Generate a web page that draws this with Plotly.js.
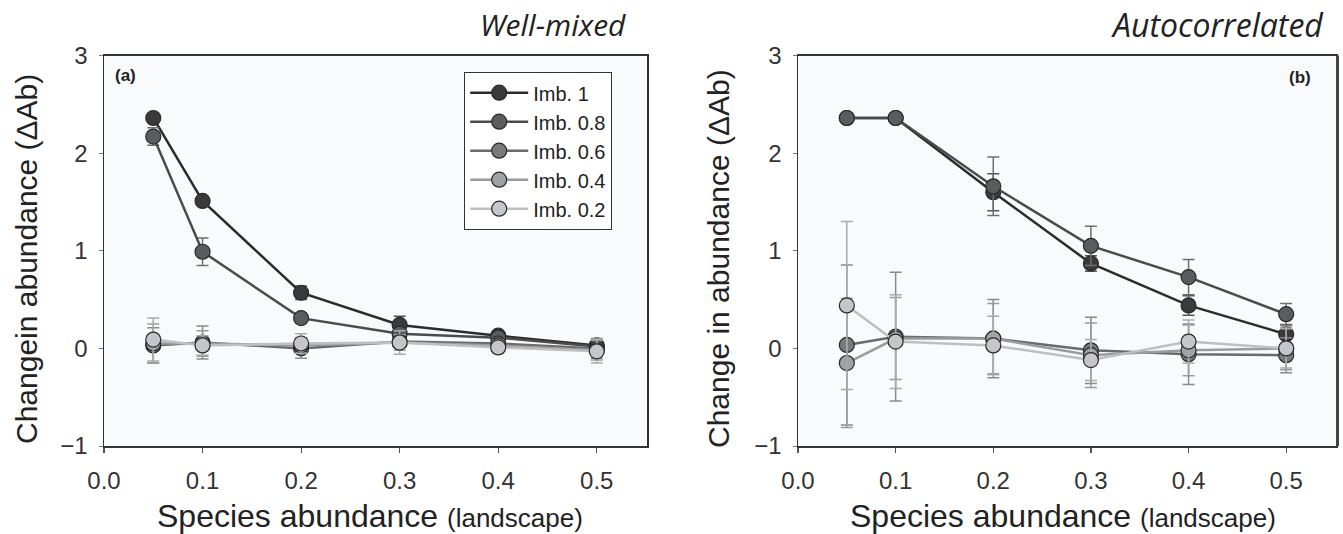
<!DOCTYPE html>
<html>
<head>
<meta charset="utf-8">
<script src="https://cdn.plot.ly/plotly-3.0.1.min.js"></script>
<style>
html,body{margin:0;padding:0;background:#fff;}
#chart{width:1343px;height:534px;}
</style>
</head>
<body>
<div id="chart"></div>
<script>
// ---- data ----
const xVals = [0.05, 0.1, 0.2, 0.3, 0.4, 0.5];
const seriesNames = ["Imb. 1", "Imb. 0.8", "Imb. 0.6", "Imb. 0.4", "Imb. 0.2"];

// Panel (a) Well-mixed
const a_imb1  = [2.36, 1.51, 0.57, 0.24, 0.13, 0.03];
const a_imb08 = [2.17, 0.99, 0.31, 0.15, 0.11, 0.02];
const a_imb06 = [0.03, 0.06, 0.00, 0.07, 0.05, 0.00];
const a_imb04 = [0.05, 0.05, 0.03, 0.06, 0.03, -0.02];
const a_imb02 = [0.09, 0.03, 0.05, 0.06, 0.01, -0.03];
const a_err1  = [0.04, 0.04, 0.07, 0.09, 0.04, 0.04];
const a_err08 = [0.09, 0.14, 0.05, 0.05, 0.03, 0.03];
const a_err06 = [0.18, 0.17, 0.10, 0.06, 0.05, 0.10];
const a_err04 = [0.20, 0.13, 0.08, 0.08, 0.06, 0.10];
const a_err02 = [0.22, 0.10, 0.10, 0.12, 0.06, 0.12];

// Panel (b) Autocorrelated
const b_imb1  = [2.36, 2.36, 1.60, 0.87, 0.44, 0.145];
const b_imb08 = [2.36, 2.36, 1.66, 1.05, 0.73, 0.35];
const b_imb06 = [0.035, 0.12, 0.10, -0.02, -0.06, -0.07];
const b_imb04 = [-0.15, 0.10, 0.10, -0.07, -0.02, 0.00];
const b_imb02 = [0.44, 0.07, 0.03, -0.12, 0.07, 0.00];
const b_err1  = [0.02, 0.02, 0.19, 0.08, 0.10, 0.10];
const b_err08 = [0.02, 0.02, 0.30, 0.20, 0.18, 0.11];
const b_err06 = [0.82, 0.66, 0.40, 0.34, 0.31, 0.18];
const b_err04 = [0.66, 0.42, 0.36, 0.33, 0.26, 0.22];
const b_err02 = [0.86, 0.48, 0.30, 0.21, 0.22, 0.20];

const xTickVals = [0, 0.1, 0.2, 0.3, 0.4, 0.5];
const xTickText = ["0.0", "0.1", "0.2", "0.3", "0.4", "0.5"];
const yTickVals = [-1, 0, 1, 2, 3];
const yTickText = ["\u22121", "0", "1", "2", "3"];

// ---- styles ----
const lineColors   = ["#2c2c2c", "#4b4b4b", "#6a6a6a", "#9b9b9b", "#bfbfbf"];
const markerColors = ["#3a3a3a", "#5a5d5f", "#787b7e", "#9fa2a6", "#c3c6cb"];
const errColors    = ["#555555", "#6e6e6e", "#8a8a8a", "#9a9a9a", "#aaaaaa"];

const aY = [a_imb1, a_imb08, a_imb06, a_imb04, a_imb02];
const aE = [a_err1, a_err08, a_err06, a_err04, a_err02];
const bY = [b_imb1, b_imb08, b_imb06, b_imb04, b_imb02];
const bE = [b_err1, b_err08, b_err06, b_err04, b_err02];

const traces = [];
function addPanel(ys, es, xa, ya, showLeg) {
  [0, 1, 2, 3, 4].forEach(i => {
    traces.push({
      type: "scatter", mode: "lines+markers",
      name: seriesNames[i],
      x: xVals, y: ys[i],
      xaxis: xa, yaxis: ya,
      showlegend: showLeg,
      line: {color: lineColors[i], width: 2.5},
      marker: {size: 15, color: markerColors[i], line: {color: "#2a2a2a", width: 1.2}},
      error_y: {type: "data", array: es[i], visible: true, color: errColors[i], thickness: 1.5, width: 6}
    });
  });
}
addPanel(aY, aE, "x", "y", true);
addPanel(bY, bE, "x2", "y2", false);

const tickFont = {family: "Liberation Sans, Arial, sans-serif", size: 24, color: "#333"};
function xax(domain, anchor) {
  return {
    domain: domain, range: [0, 0.551], tickvals: xTickVals, ticktext: xTickText, anchor: anchor,
    ticks: "outside", ticklen: 5, tickcolor: "#555", tickwidth: 1.2,
    showline: true, linecolor: "#333", linewidth: 1.5, mirror: true,
    showgrid: false, zeroline: false, tickfont: tickFont, ticklabelstandoff: 8
  };
}
function yax(domain, anchor) {
  return {
    domain: domain, range: [-1, 3], tickvals: yTickVals, ticktext: yTickText,
    ticks: "outside", ticklen: 4, tickcolor: "#777", tickwidth: 1,
    showline: true, linecolor: "#333", linewidth: 1.5, mirror: true,
    showgrid: false, zeroline: false, tickfont: tickFont, anchor: anchor, ticklabelstandoff: 6
  };
}

const W = 1343, H = 534;
const yDom = [1 - 446/H, 1 - 55.5/H];

const titleFont = {family: "Liberation Sans, Arial, sans-serif", size: 30, color: "#222"};
const xTitleFont = {family: "Liberation Sans, Arial, sans-serif", size: 32, color: "#222"};
const labFont = {family: "Liberation Sans, Arial, sans-serif", size: 17, color: "#222"};
const xTitleText = "Species abundance <span style='font-size:26px'>(landscape)</span>";

const layout = {
  width: W, height: H,
  margin: {l: 0, r: 0, t: 0, b: 0},
  paper_bgcolor: "#ffffff",
  plot_bgcolor: "#f9fafb",
  showlegend: true,
  legend: {
    x: 464/W, y: 1 - 72/H, xanchor: "left", yanchor: "top",
    bgcolor: "#ffffff", bordercolor: "#333", borderwidth: 1.2,
    font: {family: "Liberation Sans, Arial, sans-serif", size: 20, color: "#222"},
    tracegroupgap: 0, itemwidth: 58
  },
  xaxis: xax([104/W, 647/W], "y"), yaxis: yax(yDom, "x"),
  xaxis2: xax([798/W, 1336/W], "y2"), yaxis2: yax(yDom, "x2"),
  shapes: [
    {type: "line", xref: "paper", yref: "paper", x0: 1337.5/W, x1: 1337.5/W, y0: yDom[0], y1: yDom[1], line: {color: "#444", width: 3}}
  ],
  annotations: [
    {text: "Well-mixed", xref: "paper", yref: "paper", x: 553/W, y: 1 - 24/H, xanchor: "center", yanchor: "middle", showarrow: false, font: {family: "Open Sans, sans-serif", size: 30, color: "#222", style: "italic"}},
    {text: "Autocorrelated", xref: "paper", yref: "paper", x: 1326/W, y: 1 - 24/H, xanchor: "right", yanchor: "middle", showarrow: false, font: {family: "Open Sans, sans-serif", size: 32, color: "#222", style: "italic"}},
    {text: "<b>(a)</b>", xref: "paper", yref: "paper", x: 125/W, y: 1 - 75/H, xanchor: "center", yanchor: "middle", showarrow: false, font: labFont},
    {text: "<b>(b)</b>", xref: "paper", yref: "paper", x: 1300/W, y: 1 - 77/H, xanchor: "center", yanchor: "middle", showarrow: false, font: labFont},
    {text: "Changein abundance (\u0394Ab)", xref: "paper", yref: "paper", x: 26/W, y: 1 - 259/H, xanchor: "center", yanchor: "middle", textangle: -90, showarrow: false, font: titleFont},
    {text: "Change in abundance (\u0394Ab)", xref: "paper", yref: "paper", x: 718/W, y: 1 - 259/H, xanchor: "center", yanchor: "middle", textangle: -90, showarrow: false, font: titleFont},
    {text: xTitleText, xref: "paper", yref: "paper", x: 370/W, y: 1 - 516/H, xanchor: "center", yanchor: "middle", showarrow: false, font: xTitleFont},
    {text: xTitleText, xref: "paper", yref: "paper", x: 1063/W, y: 1 - 516/H, xanchor: "center", yanchor: "middle", showarrow: false, font: xTitleFont}
  ]
};

Plotly.newPlot("chart", traces, layout, {displayModeBar: false, staticPlot: true});
</script>
</body>
</html>
